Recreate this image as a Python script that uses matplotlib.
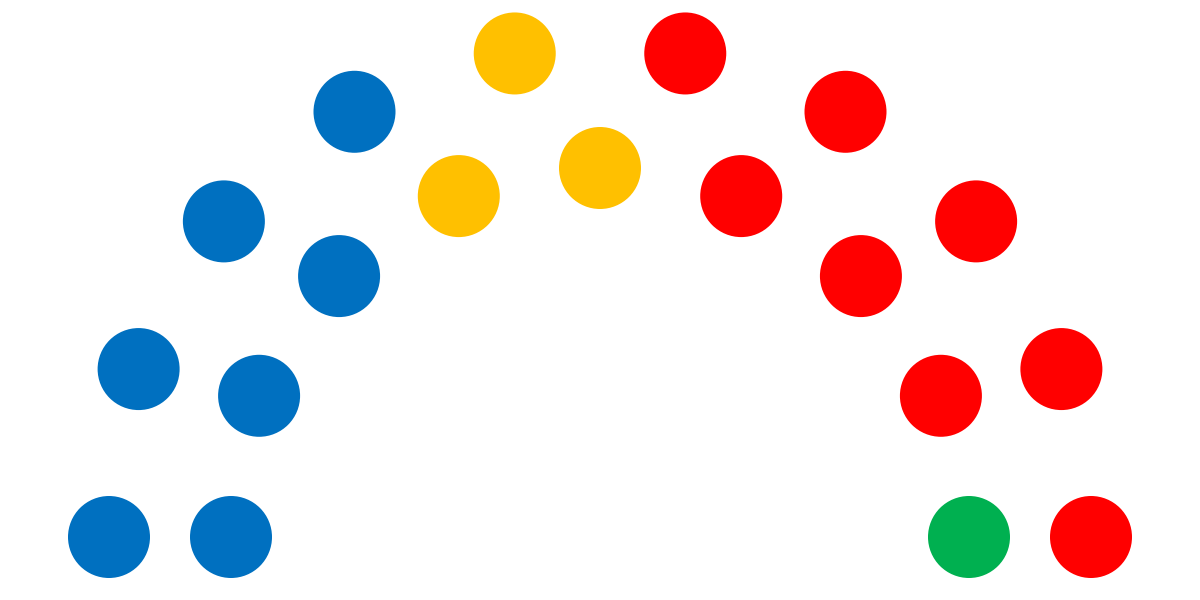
import numpy as np
import matplotlib
matplotlib.use("Agg")
import matplotlib.pyplot as plt
from matplotlib.patches import Circle

# seats per party, left to right
parties = ["Blue", "Yellow", "Red", "Green"]
seats = [7, 3, 8, 1]
colors = ["#0070C0", "#FFC000", "#FF0000", "#00B050"]

# hemicycle layout: two rows, outer row gets the extra seat
total = sum(seats)
row_counts = [total - total // 2, total // 2]   # outer, inner
row_radius = [491, 369]
cx, cy = 600, 537
dot_r = 41

slots = []
for row, (n, rad) in enumerate(zip(row_counts, row_radius)):
    angs = np.linspace(np.pi, 0, n)
    for a in angs:
        slots.append((a, row, cx + rad * np.cos(a), cy - rad * np.sin(a)))

# sort from left (180 deg) to right (0 deg), outer row first on ties
slots.sort(key=lambda s: (-round(s[0], 6), s[1]))

seat_colors = []
for c, n in zip(colors, seats):
    seat_colors += [c] * n

fig = plt.figure(figsize=(12, 6), dpi=100)
ax = fig.add_axes([0, 0, 1, 1])
ax.set_xlim(0, 1200)
ax.set_ylim(600, 0)
ax.set_aspect("equal")
ax.axis("off")

for (a, row, x, y), c in zip(slots, seat_colors):
    ax.add_patch(Circle((x, y), dot_r, color=c, lw=0))

fig.savefig("out.png", dpi=100, facecolor="white")
